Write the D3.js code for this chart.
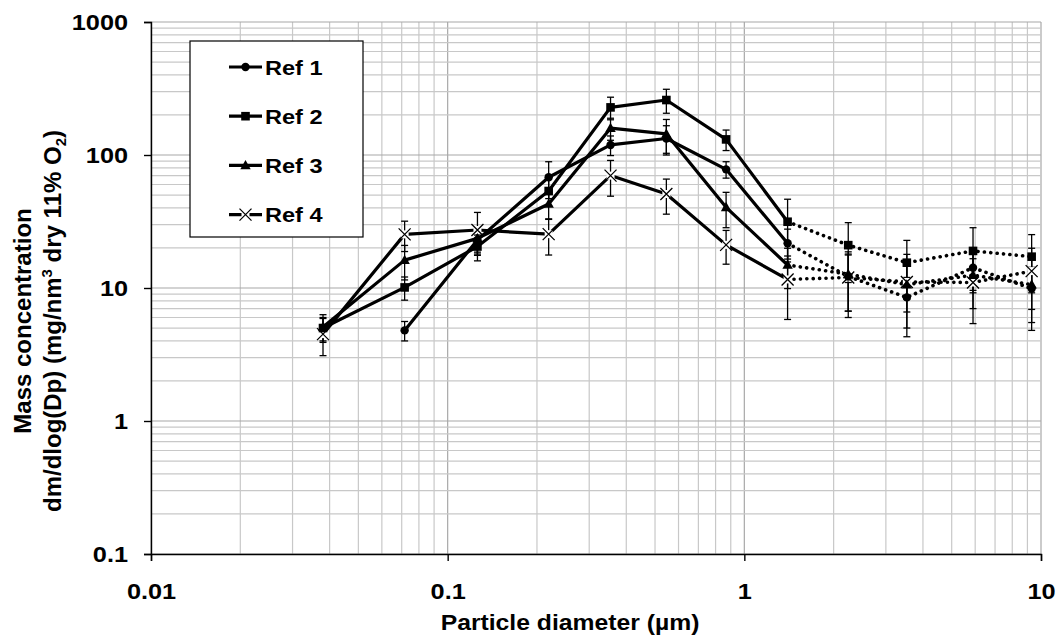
<!DOCTYPE html>
<html>
<head>
<meta charset="utf-8">
<script src="https://cdn.jsdelivr.net/npm/d3@7"></script>
<style>
  html, body { margin: 0; padding: 0; background: #fff; }
  svg { display: block; font-family: "Liberation Sans", Arial, sans-serif; font-weight: bold; }
</style>
</head>
<body>
<svg id="chart" width="1056" height="637"></svg>
<script>
// ---------- data ----------
const diameters = [0.038, 0.0716, 0.126, 0.219, 0.354, 0.546, 0.868, 1.399, 2.24, 3.53, 5.9, 9.3];
const ref1    = [null, 4.8, 23, 68, 119, 133, 78, 21.7, 12.2, 8.5, 14.2, 9.9];
const ref1Err = [null, 0.8, 5, 21, 20, 33, 11, 6, 5.5, 3.5, 5, 4.4];
const ref2    = [5.0, 10.1, 20.5, 53.6, 228, 259, 131, 31.5, 21.0, 15.5, 19.0, 17.2];
const ref2Err = [1.0, 2.0, 4.5, 12, 44, 53, 23, 15, 10, 7.3, 9.4, 8];
const ref3    = [5.1, 16.2, 23.6, 42.8, 159, 144, 40.4, 14.9, 12.7, 10.6, 12.5, 10.6];
const ref3Err = [1.2, 4.7, 5, 10, 30, 41, 12, 5, 6, 4, 5.5, 5.8];
const ref4    = [4.5, 25.3, 27.3, 25.4, 70, 50.9, 21.1, 11.6, 12.0, 11.1, 11.0, 13.4];
const ref4Err = [1.4, 6.5, 9.7, 7.7, 21, 15, 6, 5.8, 6, 6.8, 5.6, 6.5];
const seriesNames = ["Ref 1", "Ref 2", "Ref 3", "Ref 4"];
const markerTypes = ["circle", "square", "triangle", "x"];
const dottedFrom = 1.399; // segments from this diameter onwards are dotted
const xTickValues = [0.01, 0.1, 1, 10];
const yTickValues = [0.1, 1, 10, 100, 1000];
const xTitle = "Particle diameter (\u00b5m)";

// ---------- layout ----------
const svg = d3.select("#chart");
const pLeft = 151, pRight = 1041, pTop = 22, pBottom = 554;
const x = d3.scaleLog().domain([0.01, 10]).range([pLeft, pRight]);
const y = d3.scaleLog().domain([0.1, 1000]).range([pBottom, pTop]);
const STRETCH = 1.15;

// ---------- grid ----------
const grid = svg.append("g");
function minorVals(lo, hi) {
  const out = [];
  for (let e = Math.round(Math.log10(lo)); e < Math.round(Math.log10(hi)); e++) {
    for (let m = 1; m <= 9; m++) out.push(m * Math.pow(10, e));
  }
  out.push(hi);
  return out.map(v => +v.toPrecision(6));
}
const isMajor = v => Math.abs(Math.log10(v) - Math.round(Math.log10(v))) < 1e-6;
grid.selectAll("line.gx").data(minorVals(0.01, 10)).join("line")
  .attr("x1", d => x(d)).attr("x2", d => x(d)).attr("y1", pTop).attr("y2", pBottom)
  .attr("stroke", d => isMajor(d) ? "#a8a8a8" : "#c8c8c8").attr("stroke-width", 1.2);
grid.selectAll("line.gy").data(minorVals(0.1, 1000)).join("line")
  .attr("y1", d => y(d)).attr("y2", d => y(d)).attr("x1", pLeft).attr("x2", pRight)
  .attr("stroke", d => isMajor(d) ? "#a8a8a8" : "#c8c8c8").attr("stroke-width", 1.2);

// ---------- axes ----------
const yAxis = svg.append("g").attr("transform", `translate(${pLeft},0)`)
  .call(d3.axisLeft(y).tickValues(yTickValues).tickSize(7).tickFormat(d3.format("~g")));
const xAxis = svg.append("g").attr("transform", `translate(0,${pBottom})`)
  .call(d3.axisBottom(x).tickValues(xTickValues).tickSize(7).tickFormat(d3.format("~g")));
[yAxis, xAxis].forEach(a => {
  a.select(".domain").attr("stroke", "#000").attr("stroke-width", 1.4);
  a.selectAll(".tick line").attr("stroke", "#000").attr("stroke-width", 1.4);
  a.selectAll(".tick text").attr("fill", "#000").attr("font-size", 22)
    .attr("font-weight", "bold").attr("font-family", "Liberation Sans, Arial, sans-serif");
});
yAxis.selectAll(".tick text").attr("x", -23 / STRETCH).attr("dy", "0.36em")
  .attr("transform", `scale(${STRETCH},1)`);
xAxis.selectAll(".tick text").attr("y", 45).attr("dy", 0)
  .attr("transform", `scale(${STRETCH},1)`);

// ---------- titles ----------
svg.append("g").attr("transform", `translate(570,630) scale(${STRETCH},1)`)
  .append("text").attr("text-anchor", "middle").attr("font-size", 21.5).text(xTitle);

svg.append("text").attr("transform", "translate(31,321) rotate(-90)")
  .attr("text-anchor", "middle").attr("font-size", 24).text("Mass concentration");
const yt2 = svg.append("text").attr("transform", "translate(61,321) rotate(-90)")
  .attr("text-anchor", "middle").attr("font-size", 24);
yt2.append("tspan").text("dm/dlog(Dp) (mg/nm");
yt2.append("tspan").attr("font-size", 15).attr("dy", -9).text("3");
yt2.append("tspan").attr("dy", 9).text(" dry 11% O");
yt2.append("tspan").attr("font-size", 15).attr("dy", 5).text("2");
yt2.append("tspan").attr("dy", -5).text(")");

// ---------- series ----------
const values = [ref1, ref2, ref3, ref4];
const errors = [ref1Err, ref2Err, ref3Err, ref4Err];
const series = seriesNames.map((name, i) => ({
  name, marker: markerTypes[i],
  pts: diameters.map((d, j) => ({ x: d, y: values[i][j], e: errors[i][j] })).filter(p => p.y != null)
}));

const line = d3.line().x(p => x(p.x)).y(p => y(p.y));
const lines = svg.append("g").attr("fill", "none").attr("stroke", "#000");
series.forEach(s => {
  lines.append("path").attr("d", line(s.pts.filter(p => p.x <= dottedFrom)))
    .attr("stroke-width", 3.2).attr("stroke-linejoin", "round");
  lines.append("path").attr("d", line(s.pts.filter(p => p.x >= dottedFrom)))
    .attr("stroke-width", 3.6).attr("stroke-linecap", "round").attr("stroke-dasharray", "0.1,6.3");
});

// error bars
const eb = svg.append("g").attr("stroke", "#000").attr("stroke-width", 1.3);
series.forEach(s => {
  s.pts.forEach(p => {
    const hi = y(p.y + p.e), lo = y(Math.max(p.y - p.e, 0.11));
    const cx = x(p.x);
    eb.append("line").attr("x1", cx).attr("x2", cx).attr("y1", hi).attr("y2", lo);
    eb.append("line").attr("x1", cx - 3.5).attr("x2", cx + 3.5).attr("y1", hi).attr("y2", hi);
    eb.append("line").attr("x1", cx - 3.5).attr("x2", cx + 3.5).attr("y1", lo).attr("y2", lo);
  });
});

function drawMarker(g, type, cx, cy) {
  if (type === "circle") {
    g.append("circle").attr("cx", cx).attr("cy", cy).attr("r", 4.2).attr("fill", "#000");
  } else if (type === "square") {
    g.append("rect").attr("x", cx - 4.3).attr("y", cy - 4.3).attr("width", 8.6).attr("height", 8.6).attr("fill", "#000");
  } else if (type === "triangle") {
    g.append("path").attr("d", `M${cx},${cy - 5.5}L${cx + 5.2},${cy + 3.8}L${cx - 5.2},${cy + 3.8}Z`).attr("fill", "#000");
  } else {
    g.append("rect").attr("x", cx - 4).attr("y", cy - 4).attr("width", 8).attr("height", 8).attr("fill", "#fff");
    g.append("path").attr("d", `M${cx - 6},${cy - 6}L${cx + 6},${cy + 6}M${cx + 6},${cy - 6}L${cx - 6},${cy + 6}`)
      .attr("stroke", "#000").attr("stroke-width", 1.3).attr("fill", "none");
  }
}
const mk = svg.append("g");
[3, 0, 1, 2].forEach(i => {
  series[i].pts.forEach(p => drawMarker(mk, series[i].marker, x(p.x), y(p.y)));
});

// ---------- legend ----------
const lg = svg.append("g");
lg.append("rect").attr("x", 190).attr("y", 41).attr("width", 173).attr("height", 196)
  .attr("fill", "#fff").attr("stroke", "#000").attr("stroke-width", 1.2);
series.forEach((s, i) => {
  const cy = 67 + i * 49.2;
  lg.append("line").attr("x1", 229).attr("x2", 262).attr("y1", cy).attr("y2", cy)
    .attr("stroke", "#000").attr("stroke-width", 3.2);
  drawMarker(lg, s.marker, 245.5, cy);
  lg.append("g").attr("transform", `translate(265,${cy + 7.5}) scale(${STRETCH},1)`)
    .append("text").attr("font-size", 20.5).text(s.name);
});
</script>
</body>
</html>
